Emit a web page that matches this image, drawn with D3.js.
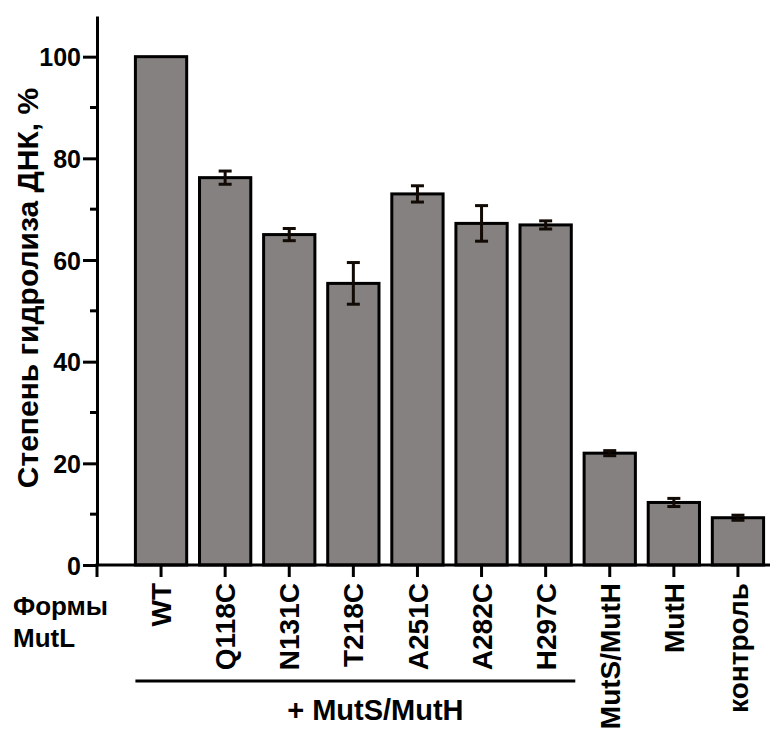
<!DOCTYPE html>
<html>
<head>
<meta charset="utf-8">
<script src="https://cdn.jsdelivr.net/npm/d3@7"></script>
<style>
  body { margin: 0; background: #fff; }
  svg text { font-family: "Liberation Sans", Arial, sans-serif; font-weight: bold; fill: #000; }
</style>
</head>
<body>
<svg id="chart" width="779" height="736"></svg>
<script>

var categories = ["WT", "Q118C", "N131C", "T218C", "A251C", "A282C", "H297C", "MutS/MutH", "MutH", "контроль"];
var values = [100, 76.2, 65.0, 55.4, 73.0, 67.2, 66.9, 22.0, 12.3, 9.3];
var errors = [0, 1.3, 1.2, 4.1, 1.6, 3.5, 0.8, 0.5, 0.8, 0.5];
var majorTicks = [0, 20, 40, 60, 80, 100];
var minorTicks = [10, 30, 50, 70, 90];

var svg = d3.select("#chart");

var x0 = 97, xEnd = 770, y0 = 565;

var x = d3.scaleBand()
	.domain(categories)
	.range([129, 770])
	.paddingInner(0.2)
	.paddingOuter(0.1);

var y = d3.scaleLinear()
	.domain([0, 108])
	.range([y0, 16]);

var data = categories.map(function(c, i) {
	return { name: c, value: values[i], err: errors[i] };
});

// bars
svg.append("g").selectAll("rect")
	.data(data)
	.enter().append("rect")
	.attr("x", function(d) { return x(d.name); })
	.attr("y", function(d) { return y(d.value); })
	.attr("width", x.bandwidth())
	.attr("height", function(d) { return y(0) - y(d.value); })
	.attr("fill", "#858180")
	.attr("stroke", "#000")
	.attr("stroke-width", 3);

// error bars
var eb = svg.append("g").selectAll("g")
	.data(data.filter(function(d) { return d.err > 0; }))
	.enter().append("g")
	.attr("stroke", "#120a05")
	.attr("stroke-width", 3);

eb.append("line")
	.attr("x1", function(d) { return x(d.name) + x.bandwidth() / 2; })
	.attr("x2", function(d) { return x(d.name) + x.bandwidth() / 2; })
	.attr("y1", function(d) { return y(d.value + d.err); })
	.attr("y2", function(d) { return y(d.value - d.err); });

eb.selectAll(".cap")
	.data(function(d) { return [[d, d.value + d.err], [d, d.value - d.err]]; })
	.enter().append("line")
	.attr("class", "cap")
	.attr("x1", function(p) { return x(p[0].name) + x.bandwidth() / 2 - 6.5; })
	.attr("x2", function(p) { return x(p[0].name) + x.bandwidth() / 2 + 6.5; })
	.attr("y1", function(p) { return y(p[1]); })
	.attr("y2", function(p) { return y(p[1]); });

// y axis
var yAxis = d3.axisLeft(y)
	.tickValues(majorTicks)
	.tickSize(14)
	.tickSizeOuter(0)
	.tickPadding(2)
	.tickFormat(d3.format("d"));

var yg = svg.append("g")
	.attr("transform", "translate(" + x0 + ",0)")
	.call(yAxis);

yg.select(".domain").attr("stroke-width", 3);
yg.selectAll(".tick line").attr("stroke-width", 3);
yg.selectAll(".tick text").attr("font-size", 25).attr("dy", "0.36em");

yg.selectAll(".minor")
	.data(minorTicks)
	.enter().append("line")
	.attr("class", "minor")
	.attr("x1", -7)
	.attr("x2", 0)
	.attr("y1", function(d) { return y(d); })
	.attr("y2", function(d) { return y(d); })
	.attr("stroke", "#000")
	.attr("stroke-width", 3);

// x axis
var xAxis = d3.axisBottom(x)
	.tickSize(12)
	.tickSizeOuter(0)
	.tickPadding(6);

var xg = svg.append("g")
	.attr("transform", "translate(0," + y0 + ")")
	.call(xAxis);

xg.select(".domain").remove();
xg.selectAll(".tick line").attr("stroke-width", 3);
xg.selectAll(".tick text")
	.attr("font-size", 28)
	.attr("text-anchor", "end")
	.attr("transform", "rotate(-90)")
	.attr("x", -18)
	.attr("y", 0)
	.attr("dy", "0.36em");

xg.append("line")
	.attr("x1", x0 - 1.5)
	.attr("x2", xEnd)
	.attr("y1", 0)
	.attr("y2", 0)
	.attr("stroke", "#000")
	.attr("stroke-width", 3);

xg.append("line")
	.attr("x1", x0)
	.attr("x2", x0)
	.attr("y1", 0)
	.attr("y2", 12)
	.attr("stroke", "#000")
	.attr("stroke-width", 3);

// y title
svg.append("text")
	.attr("transform", "translate(38,288) rotate(-90)")
	.attr("text-anchor", "middle")
	.attr("font-size", 30)
	.text("Степень гидролиза ДНК, %");

// left x caption
svg.append("text")
	.attr("x", 13)
	.attr("y", 615)
	.attr("font-size", 26)
	.text("Формы");

svg.append("text")
	.attr("x", 13)
	.attr("y", 647)
	.attr("font-size", 26)
	.text("MutL");

// group bracket
var groupEnd = x("H297C") + x.bandwidth();
svg.append("line")
	.attr("x1", x("WT"))
	.attr("x2", groupEnd + 4)
	.attr("y1", 681)
	.attr("y2", 681)
	.attr("stroke", "#000")
	.attr("stroke-width", 3);

svg.append("text")
	.attr("x", (x("WT") + groupEnd) / 2 + 22)
	.attr("y", 720)
	.attr("text-anchor", "middle")
	.attr("font-size", 29)
	.text("+ MutS/MutH");

</script>
</body>
</html>
